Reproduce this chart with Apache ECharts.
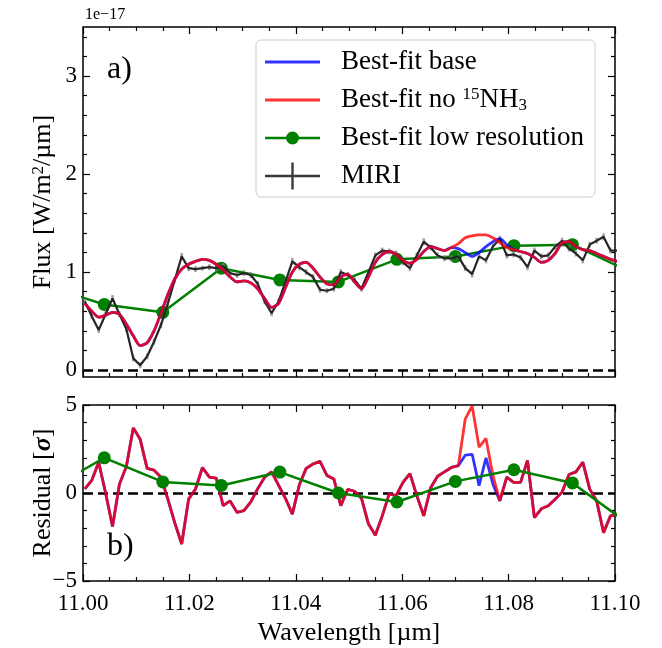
<!DOCTYPE html>
<html><head><meta charset="utf-8">
<script src="https://cdn.jsdelivr.net/npm/echarts@6/dist/echarts.min.js"></script>
<style>html,body{margin:0;padding:0;background:#fff}#c{width:662px;height:648px}</style>
</head><body><div id="c"></div>
<script>
// MIRI wavelength grid [µm]
const wavelength = [11.00035,11.00165,11.00295,11.00425,11.00555,11.00685,11.00815,11.00945,11.01075,11.01205,
11.01335,11.01465,11.01595,11.01725,11.01855,11.01985,11.02115,11.02245,11.02375,11.02505,
11.02635,11.02765,11.02895,11.03025,11.03155,11.03285,11.03415,11.03545,11.03675,11.03805,
11.03935,11.04065,11.04195,11.04325,11.04455,11.04585,11.04715,11.04845,11.04975,11.05105,
11.05235,11.05365,11.05495,11.05625,11.05755,11.05885,11.06015,11.06145,11.06275,11.06405,
11.06535,11.06665,11.06795,11.06925,11.07055,11.07185,11.07315,11.07445,11.07575,11.07705,
11.07835,11.07965,11.08095,11.08225,11.08355,11.08485,11.08615,11.08745,11.08875,11.09005,
11.09135,11.09265,11.09395,11.09525,11.09655,11.09785,11.09915,11.10045];
// MIRI flux [1e-17 W/m2/µm]
const miriFlux = [0.70,0.55,0.41,0.57,0.73,0.57,0.42,0.12,0.05,0.14,
0.29,0.46,0.68,0.92,1.16,1.04,1.03,1.04,1.05,1.04,
1.06,0.99,0.97,0.99,0.97,0.88,0.70,0.58,0.70,0.90,
1.11,1.05,1.00,0.95,0.82,0.81,0.83,1.00,0.97,0.92,
0.83,1.00,1.17,1.22,1.21,1.19,1.10,1.04,1.17,1.31,
1.25,1.17,1.14,1.14,1.16,1.04,0.98,1.16,1.12,1.26,
1.34,1.17,1.18,1.15,1.05,1.22,1.16,1.17,1.26,1.32,
1.24,1.19,1.12,1.28,1.32,1.36,1.22,1.22];
const miriErr = [0.03,0.03,0.03,0.03,0.035,0.03,0.03,0.03,0.03,0.03,
0.03,0.03,0.03,0.03,0.035,0.03,0.03,0.025,0.03,0.03,
0.03,0.03,0.03,0.03,0.03,0.03,0.03,0.03,0.03,0.03,
0.035,0.03,0.03,0.03,0.03,0.025,0.03,0.03,0.03,0.03,
0.03,0.03,0.03,0.03,0.03,0.03,0.03,0.03,0.03,0.035,
0.03,0.03,0.03,0.03,0.03,0.03,0.035,0.03,0.03,0.03,
0.03,0.03,0.03,0.03,0.03,0.03,0.03,0.03,0.03,0.03,
0.03,0.03,0.03,0.03,0.03,0.035,0.03,0.03];
// Best-fit models
const modelBase = [0.68,0.60,0.54,0.56,0.59,0.57,0.47,0.35,0.25,0.28,
0.40,0.58,0.77,0.93,1.03,1.08,1.11,1.13,1.12,1.08,
1.02,0.95,0.90,0.91,0.89,0.83,0.73,0.64,0.68,0.84,
1.00,1.08,1.10,1.04,0.95,0.88,0.87,0.95,0.98,0.90,
0.83,0.95,1.10,1.18,1.21,1.18,1.12,1.09,1.13,1.21,
1.26,1.24,1.22,1.25,1.24,1.20,1.16,1.20,1.26,1.31,
1.34,1.28,1.23,1.21,1.19,1.15,1.10,1.12,1.19,1.30,
1.31,1.26,1.23,1.22,1.19,1.16,1.13,1.11];
const modelNo15 = [0.68,0.60,0.54,0.56,0.59,0.57,0.47,0.35,0.25,0.28,
0.40,0.58,0.77,0.93,1.03,1.08,1.11,1.13,1.12,1.08,
1.02,0.95,0.90,0.91,0.89,0.83,0.73,0.64,0.68,0.84,
1.00,1.08,1.10,1.04,0.95,0.88,0.87,0.95,0.98,0.90,
0.83,0.95,1.10,1.18,1.21,1.18,1.12,1.09,1.13,1.21,
1.26,1.24,1.22,1.25,1.29,1.35,1.37,1.38,1.38,1.35,
1.30,1.25,1.23,1.21,1.19,1.15,1.10,1.12,1.19,1.30,
1.31,1.26,1.23,1.22,1.19,1.16,1.13,1.11];
// Residuals [sigma]
const residBase = [0.23,0.72,1.75,0.0,-1.9,0.5,1.5,3.7,3.05,1.4,
1.3,0.9,-0.35,-1.7,-2.9,-0.35,0.23,1.45,0.9,0.85,
-0.72,-0.45,-1.1,-1.0,-0.5,0.25,0.9,1.2,0.45,-0.3,
-1.2,0.45,1.4,1.65,1.8,1.0,0.8,-0.72,0.2,0.1,
-0.3,-1.75,-2.4,-1.3,-0.05,-0.15,0.6,1.1,-0.15,-1.3,
0.3,0.95,1.2,1.45,1.55,2.15,2.2,0.42,2.0,0.5,
-0.45,0.9,0.6,0.6,1.85,-1.4,-0.9,-0.72,-0.35,0.05,
1.05,1.2,1.75,0.22,-0.45,-2.25,-1.3,-1.2];
const residNo15 = [0.23,0.72,1.75,0.0,-1.9,0.5,1.5,3.7,3.05,1.4,
1.3,0.9,-0.35,-1.7,-2.9,-0.35,0.23,1.45,0.9,0.85,
-0.72,-0.45,-1.1,-1.0,-0.5,0.25,0.9,1.2,0.45,-0.3,
-1.2,0.45,1.4,1.65,1.8,1.0,0.8,-0.72,0.2,0.1,
-0.3,-1.75,-2.4,-1.3,-0.05,-0.15,0.6,1.1,-0.15,-1.3,
0.3,0.95,1.2,1.45,1.55,4.2,4.95,2.6,3.1,1.0,
-0.45,0.9,0.6,0.6,1.85,-1.4,-0.9,-0.72,-0.35,0.05,
1.05,1.2,1.75,0.22,-0.45,-2.25,-1.3,-1.2];
// Low resolution best fit
const lowResWave = [10.993,11.004,11.015,11.026,11.037,11.048,11.059,11.070,11.081,11.092,11.103];
const lowResFlux = [0.86,0.67,0.59,1.04,0.92,0.90,1.13,1.16,1.27,1.28,1.00];
const lowResResid = [0.1,2.0,0.63,0.43,1.19,0.0,-0.51,0.66,1.32,0.57,-1.85];
// Ticks
const fluxTicks = [0,1,2,3];
const fluxMinorTicks = [0.2,0.4,0.6,0.8,1.2,1.4,1.6,1.8,2.2,2.4,2.6,2.8,3.2,3.4];

const zip = (a,b) => a.map((v,i)=>[v,b[i]]);
const FONT = 'Liberation Serif';
const BLUE = 'rgba(0,0,255,0.8)', RED = 'rgba(255,0,0,0.8)', GREEN = '#008000', BLACK = '#262626';

const tickStyle = {color:'#000', width:1.2};
function xAx(grid, pos, labels){
  return {type:'value', gridIndex:grid, position:pos, min:11.0, max:11.1, interval:0.02,
    axisLine:{show:false, onZero:false}, splitLine:{show:false},
    axisTick:{show:true, inside:true, length:7, lineStyle:tickStyle},
    minorTick:{show:true, splitNumber:4, length:4, lineStyle:tickStyle},
    axisLabel:{show:labels, margin:11, fontFamily:FONT, fontSize:23, color:'#000',
      formatter:v=>v.toFixed(2)},
    name: labels ? 'Wavelength [µm]' : '', nameLocation:'middle', nameGap:39, nameMoveOverlap:false,
    nameTextStyle:{fontFamily:FONT, fontSize:26, color:'#000'}};
}
function yTop(pos, major, withLabel){
  return {type:'value', gridIndex:0, position:pos, min:-0.07, max:3.5,
    axisLine:{show:false, onZero:false}, splitLine:{show:false},
    axisTick:{show:true, inside:true, length: major?7:4, lineStyle:tickStyle,
      customValues: major ? fluxTicks : fluxMinorTicks},
    axisLabel:{show:withLabel, customValues: fluxTicks, margin:6, fontFamily:FONT, fontSize:23, color:'#000'},
    name: withLabel ? 'Flux [W/m{sup|2}/µm]' : '', nameLocation:'middle', nameGap:27, nameMoveOverlap:false,
    nameTextStyle:{fontFamily:FONT, fontSize:26, color:'#000',
      rich:{sup:{fontFamily:FONT, fontSize:17, color:'#000', verticalAlign:'top', lineHeight:17}}}};
}
function yBot(pos, withLabel){
  return {type:'value', gridIndex:1, position:pos, min:-5, max:5, interval:5,
    axisLine:{show:false, onZero:false}, splitLine:{show:false},
    axisTick:{show:true, inside:true, length:7, lineStyle:tickStyle},
    minorTick:{show:true, splitNumber:5, length:4, lineStyle:tickStyle},
    axisLabel:{show:withLabel, margin:6, fontFamily:FONT, fontSize:23, color:'#000',
      formatter:v=> v<0 ? '\u2212'+Math.abs(v) : String(v)},
    name: withLabel ? 'Residual [{it|σ}]' : '', nameLocation:'middle', nameGap:27, nameMoveOverlap:false,
    nameTextStyle:{fontFamily:FONT, fontSize:26, color:'#000',
      rich:{it:{fontFamily:FONT, fontSize:26, fontStyle:'italic', fontWeight:'bold', color:'#000'}}}};
}

const corners = 'M0,0L0.01,0L0.01,0.01ZM55,28L54.99,28L54.99,27.99Z';
const iconLine = 'path://' + corners + 'M0,12.6L55,12.6L55,15.4L0,15.4Z';
const iconGreen = 'path://' + corners + 'M0,12.75L55,12.75L55,15.25L0,15.25ZM34,14A6.5,6.5,0,1,1,21,14A6.5,6.5,0,1,1,34,14Z';
const iconMiri = 'path://' + corners + 'M0,12.75L55,12.75L55,15.25L0,15.25ZM26.3,0.5L28.7,0.5L28.7,27.5L26.3,27.5Z';

const zeroLine = {silent:true, symbol:'none', label:{show:false},
  lineStyle:{color:'#000', width:2.5, type:[10,5]}, data:[{yAxis:0}], animation:false};

const option = {
  animation:false,
  backgroundColor:'#fff',
  grid:[
    {left:83, top:27, width:532, height:350, show:true, borderColor:'#000', borderWidth:1.5, outerBoundsMode:'none'},
    {left:83, top:405, width:532, height:176, show:true, borderColor:'#000', borderWidth:1.5, outerBoundsMode:'none'}
  ],
  xAxis:[xAx(0,'bottom',false), xAx(0,'top',false), xAx(1,'bottom',true), xAx(1,'top',false)],
  yAxis:[yTop('left',true,true), yTop('left',false,false), yTop('right',true,false), yTop('right',false,false),
         yBot('left',true), yBot('right',false)],
  legend:{
    orient:'vertical', left:256, top:40, padding:[8,11,7,9],
    itemWidth:55, itemHeight:28, itemGap:10,
    backgroundColor:'rgba(255,255,255,0.8)', borderColor:'#cccccc', borderWidth:1, borderRadius:5,
    itemStyle:{borderWidth:0},
    textStyle:{fontFamily:FONT, fontSize:27, color:'#000', lineHeight:28, padding:[0,0,0,16],
      rich:{
        sup:{fontFamily:FONT, fontSize:17, color:'#000', verticalAlign:'top', lineHeight:17},
        sub:{fontFamily:FONT, fontSize:17, color:'#000', verticalAlign:'bottom', lineHeight:17}
      }},
    formatter:n => n==='Best-fit no 15NH3' ? 'Best-fit no {sup|15}NH{sub|3}' : n,
    data:[
      {name:'Best-fit base', icon:iconLine, itemStyle:{color:BLUE, borderWidth:0}},
      {name:'Best-fit no 15NH3', icon:iconLine, itemStyle:{color:RED, borderWidth:0}},
      {name:'Best-fit low resolution', icon:iconGreen, itemStyle:{color:GREEN, borderWidth:0}},
      {name:'MIRI', icon:iconMiri, itemStyle:{color:'#3a3a3a', borderWidth:0}}
    ]
  },
  graphic:[
    {type:'text', x:107, y:70, style:{text:'a)', font:'32px "Liberation Serif"', fill:'#000', verticalAlign:'middle'}},
    {type:'text', x:107, y:547, style:{text:'b)', font:'32px "Liberation Serif"', fill:'#000', verticalAlign:'middle'}},
    {type:'text', x:85, y:15, style:{text:'1e\u221217', font:'16px "Liberation Serif"', fill:'#000', verticalAlign:'middle'}}
  ],
  series:[
    {name:'Best-fit low resolution', type:'line', xAxisIndex:0, yAxisIndex:0, data:zip(lowResWave, lowResFlux),
      symbol:'circle', symbolSize:13, showSymbol:true, lineStyle:{color:GREEN, width:2.5},
      itemStyle:{color:GREEN}, z:2, clip:true},
    {name:'MIRI err', type:'custom', xAxisIndex:0, yAxisIndex:0, clip:true, z:3,
      data: wavelength.map((w,i)=>[w, miriFlux[i], miriErr[i]]), encode:{x:0, y:1},
      renderItem:function(params, api){
        const x = api.value(0), y = api.value(1), e = api.value(2);
        const a = api.coord([x, y-e]), b = api.coord([x, y+e]);
        return {type:'line', shape:{x1:a[0], y1:a[1], x2:b[0], y2:b[1]},
          style:{stroke:'rgba(128,128,128,0.75)', lineWidth:2.5}};
      }},
    {name:'MIRI', type:'line', xAxisIndex:0, yAxisIndex:0, data:zip(wavelength, miriFlux),
      symbol:'none', lineStyle:{color:BLACK, width:2.2}, itemStyle:{color:BLACK}, z:4, clip:true,
      markLine:zeroLine},
    {name:'Best-fit base', type:'line', xAxisIndex:0, yAxisIndex:0, data:zip(wavelength, modelBase),
      symbol:'none', smooth:0.25, lineStyle:{color:BLUE, width:2.8}, itemStyle:{color:BLUE}, z:5, clip:true},
    {name:'Best-fit no 15NH3', type:'line', xAxisIndex:0, yAxisIndex:0, data:zip(wavelength, modelNo15),
      symbol:'none', smooth:0.25, lineStyle:{color:RED, width:2.8}, itemStyle:{color:RED}, z:6, clip:true},
    {name:'Best-fit base', type:'line', xAxisIndex:2, yAxisIndex:4, data:zip(wavelength, residBase),
      symbol:'none', lineStyle:{color:BLUE, width:2.8}, itemStyle:{color:BLUE}, z:5, clip:true},
    {name:'Best-fit no 15NH3', type:'line', xAxisIndex:2, yAxisIndex:4, data:zip(wavelength, residNo15),
      symbol:'none', lineStyle:{color:RED, width:2.8}, itemStyle:{color:RED}, z:6, clip:true,
      markLine:zeroLine},
    {name:'Best-fit low resolution', type:'line', xAxisIndex:2, yAxisIndex:4, data:zip(lowResWave, lowResResid),
      symbol:'circle', symbolSize:13, showSymbol:true, lineStyle:{color:GREEN, width:2.5},
      itemStyle:{color:GREEN}, z:7, clip:true}
  ]
};
const chart = echarts.init(document.getElementById('c'), null, {renderer:'canvas'});
chart.setOption(option);
</script></body></html>
